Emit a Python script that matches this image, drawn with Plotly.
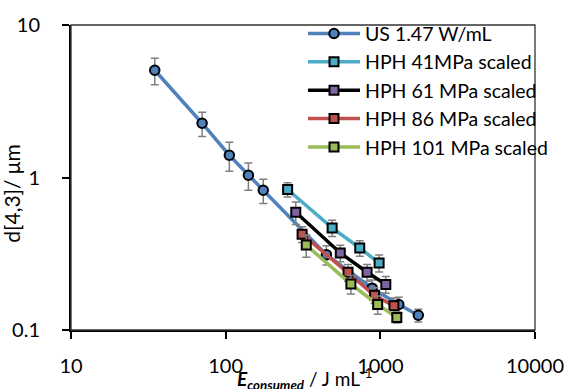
import plotly.graph_objects as go

# ---- data ----
us_x = [34.8, 70.4, 105.6, 140.3, 175.0, 448.0, 885.0, 1316.0, 1760.0]
us_y = [5.05, 2.27, 1.40, 1.035, 0.825, 0.312, 0.188, 0.147, 0.125]
us_err = [1.0, 0.41, 0.30, 0.21, 0.15, 0.045, 0.025, 0.017, 0.012]

h41_x = [251.5, 488.0, 736.0, 982.0]
h41_y = [0.834, 0.467, 0.345, 0.275]
h41_err = [0.09, 0.057, 0.04, 0.035]

h61_x = [284.0, 551.0, 821.0, 1085.0]
h61_y = [0.591, 0.320, 0.239, 0.199]
h61_err = [0.10, 0.04, 0.03, 0.025]

h86_x = [312.0, 618.0, 917.0, 1224.0]
h86_y = [0.425, 0.239, 0.169, 0.144]
h86_err = [0.05, 0.03, 0.02, 0.018]

h101_x = [332.0, 645.0, 961.0, 1278.0]
h101_y = [0.3605, 0.200, 0.147, 0.121]
h101_err = [0.06, 0.028, 0.02, 0.01]

names = ["US 1.47 W/mL", "HPH 41MPa scaled", "HPH 61 MPa scaled",
         "HPH 86 MPa scaled", "HPH 101 MPa scaled"]
line_colors = ["#4f81bd", "#4bacc6", "#000000", "#c0504d", "#9bbb59"]
fill_colors = ["#4f81bd", "#4bacc6", "#8064a2", "#c0504d", "#9bbb59"]
symbols = ["circle", "square", "square", "square", "square"]

series = [(us_x, us_y, us_err), (h41_x, h41_y, h41_err), (h61_x, h61_y, h61_err),
          (h86_x, h86_y, h86_err), (h101_x, h101_y, h101_err)]

FONT = "Lato"
fig = go.Figure()
for i, (xs, ys, es) in enumerate(series):
    fig.add_trace(go.Scatter(
        x=xs, y=ys, name=names[i], mode="lines+markers",
        line=dict(color=line_colors[i], width=3.5),
        marker=dict(symbol=symbols[i], size=9.5 if i == 0 else 9,
                    color=fill_colors[i], line=dict(color="black", width=2)),
        error_y=dict(type="data", array=es, visible=True, color="#7f7f7f",
                     thickness=1.5, width=4),
        legendgroup="g%d" % i,
    ))

fig.update_layout(
    width=576, height=389,
    margin=dict(l=63, r=29, t=23, b=58),
    paper_bgcolor="white", plot_bgcolor="white",
    font=dict(family=FONT, size=20, color="black"),
    showlegend=True,
    legend=dict(x=0.50, y=1.035, xanchor="left", yanchor="top",
                bgcolor="rgba(0,0,0,0)", itemwidth=52,
                font=dict(family=FONT, size=19.5, color="black"),
                tracegroupgap=0),
    xaxis=dict(type="log", range=[1, 4], showgrid=False, zeroline=False,
               showline=True, linecolor="black", linewidth=2,
               ticks="outside", ticklen=7, tickwidth=1.5, tickcolor="black",
               tickvals=[10, 100, 1000, 10000],
               ticktext=["10", "100", "1000", "10000"],
               tickfont=dict(family=FONT, size=20), ticklabelstandoff=10),
    yaxis=dict(type="log", range=[-1, 1], showgrid=False, zeroline=False,
               showline=True, linecolor="black", linewidth=2,
               ticks="outside", ticklen=7, tickwidth=1.5, tickcolor="black",
               tickvals=[0.1, 1, 10], ticktext=["0.1", "1", "10"],
               tickfont=dict(family=FONT, size=20), ticklabelstandoff=18),
    shapes=[dict(type="rect", xref="paper", yref="paper", x0=0, y0=0, x1=1, y1=1,
                 line=dict(color="#333333", width=1.3), layer="above")],
    annotations=[
        dict(text="<b><i>E</i></b><sub><b><i>consumed</i></b></sub> / J mL<sup>-1</sup>",
             xref="paper", yref="paper", x=0.505, y=-0.162, xanchor="center",
             yanchor="middle", showarrow=False, font=dict(family=FONT, size=19)),
        dict(text="d[4,3]/ μm", xref="paper", yref="paper", x=-0.127, y=0.447,
             xanchor="center", yanchor="middle", textangle=-90, showarrow=False,
             font=dict(family=FONT, size=21)),
    ],
)

fig.write_html("out.html")
